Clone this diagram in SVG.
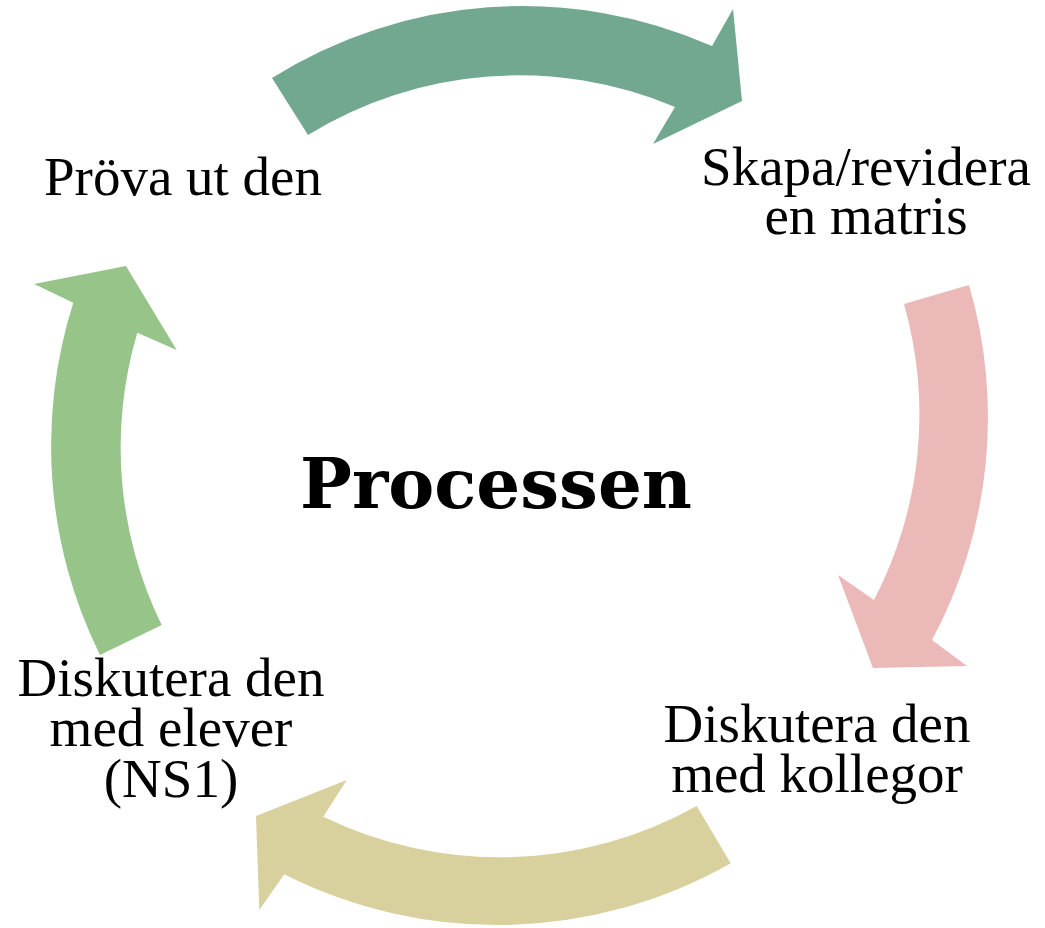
<svg xmlns="http://www.w3.org/2000/svg" width="1045" height="928" viewBox="0 0 1045 928">
<style>
.lbl{font-family:"Liberation Serif","Times New Roman",serif;font-size:55px;fill:#000;text-anchor:middle}
.title{font-family:"DejaVu Serif","Liberation Serif",serif;font-weight:bold;font-size:69px;fill:#000;text-anchor:middle}
</style>
<rect width="1045" height="928" fill="#fff"/>
<g id="connectors">
<path id="arrow-top" fill="#72A88F" d="M272,78 A471,471 0 0 1 712,46 L733,9 L742,101 L653,144 L675,107 A402,402 0 0 0 308,135 Z"/>
<path id="arrow-right" fill="#EAB9B8" d="M969,285 A471,471 0 0 1 932,640 L967,666 L873,668 L838,575 L874,600 A402,402 0 0 0 904,304 Z"/>
<path id="arrow-bottom" fill="#D8D19E" d="M730.7,863.3 A472,472 0 0 1 284.3,874.3 L259.3,910 L256,816 L346.7,780 L323.3,816.7 A404,404 0 0 0 696.7,806 Z"/>
<path id="arrow-left" fill="#97C488" d="M100,655 A472,472 0 0 1 73.3,302.7 L34,284 L126,266 L176.7,350 L137.3,332.7 A404,404 0 0 0 161.7,625 Z"/>
</g>
<g id="center">
<text class="title" x="496" y="508">Processen</text>
</g>
<g id="node-skapa">
<text class="lbl" x="866" y="185">Skapa/revidera</text>
<text class="lbl" x="866" y="234">en matris</text>
</g>
<g id="node-kollegor">
<text class="lbl" x="817" y="742">Diskutera den</text>
<text class="lbl" x="817" y="792">med kollegor</text>
</g>
<g id="node-elever">
<text class="lbl" x="171" y="696">Diskutera den</text>
<text class="lbl" x="171" y="746">med elever</text>
<text class="lbl" x="171" y="797">(NS1)</text>
</g>
<g id="node-prova">
<text class="lbl" x="183" y="195">Pröva ut den</text>
</g>
</svg>
